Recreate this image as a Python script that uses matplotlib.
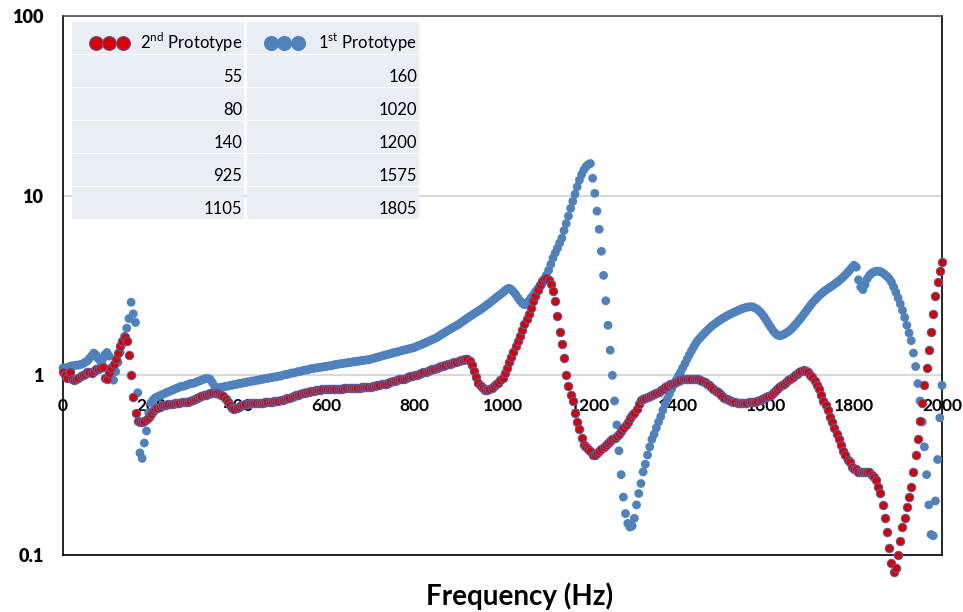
import numpy as np
import matplotlib
matplotlib.use("Agg")
import matplotlib.pyplot as plt
from matplotlib.patches import Rectangle

plt.rcParams['font.family'] = ['Lato', 'DejaVu Sans']
plt.rcParams['mathtext.fontset'] = 'custom'
plt.rcParams['mathtext.rm'] = 'Lato'

# frequency sampling (Hz), 5 Hz steps
freq = np.arange(0, 2005, 5)

# 1st prototype (blue)
proto1 = [
    1.10, 1.10, 1.10, 1.12, 1.13, 1.13, 1.14, 1.14, 1.15, 1.16, 1.18, 1.20, 1.24, 1.28, 1.33, 1.30, 1.24, 1.20, 1.22, 1.30,
    1.34, 1.28, 1.10, 0.94, 1.05, 1.18, 1.35, 1.50, 1.65, 1.83, 2.07, 2.55, 2.20, 1.97, 0.80, 0.37, 0.345, 0.42, 0.49, 0.62,
    0.70, 0.73, 0.75, 0.76, 0.77, 0.78, 0.79, 0.80, 0.81, 0.82, 0.83, 0.84, 0.85, 0.86, 0.87, 0.87, 0.88, 0.89, 0.90, 0.90,
    0.91, 0.92, 0.93, 0.94, 0.95, 0.96, 0.96, 0.95, 0.91, 0.87, 0.85, 0.85, 0.86, 0.86, 0.87, 0.87, 0.88, 0.88, 0.89, 0.89,
    0.90, 0.90, 0.91, 0.91, 0.92, 0.92, 0.93, 0.93, 0.94, 0.94, 0.95, 0.95, 0.96, 0.96, 0.97, 0.97, 0.98, 0.98, 0.99, 0.99,
    1.00, 1.01, 1.01, 1.02, 1.03, 1.03, 1.04, 1.05, 1.05, 1.06, 1.07, 1.07, 1.08, 1.09, 1.09, 1.10, 1.10, 1.11, 1.11, 1.12,
    1.12, 1.13, 1.13, 1.14, 1.15, 1.15, 1.16, 1.16, 1.17, 1.17, 1.18, 1.18, 1.19, 1.19, 1.20, 1.20, 1.21, 1.21, 1.22, 1.22,
    1.23, 1.24, 1.25, 1.26, 1.27, 1.28, 1.29, 1.30, 1.31, 1.32, 1.33, 1.34, 1.35, 1.36, 1.37, 1.38, 1.39, 1.40, 1.41, 1.42,
    1.43, 1.45, 1.47, 1.48, 1.50, 1.52, 1.54, 1.56, 1.58, 1.60, 1.62, 1.65, 1.68, 1.71, 1.74, 1.77, 1.80, 1.83, 1.86, 1.89,
    1.92, 1.96, 2.00, 2.04, 2.08, 2.12, 2.16, 2.20, 2.24, 2.28, 2.32, 2.37, 2.42, 2.47, 2.52, 2.58, 2.64, 2.70, 2.76, 2.82,
    2.88, 2.95, 3.02, 3.05, 3.00, 2.92, 2.82, 2.70, 2.60, 2.52, 2.47, 2.52, 2.60, 2.70, 2.80, 2.92, 3.03, 3.14, 3.25, 3.42,
    3.62, 3.85, 4.15, 4.50, 4.80, 5.10, 5.45, 5.80, 6.40, 7.00, 7.70, 8.50, 9.30, 10.2, 11.2, 12.2, 13.1, 13.9, 14.5, 14.9,
    15.1, 12.5, 10.3, 8.2, 6.5, 4.9, 3.6, 2.6, 1.9, 1.38, 1.0, 0.72, 0.53, 0.38, 0.28, 0.21, 0.17, 0.15, 0.143, 0.145,
    0.16, 0.19, 0.22, 0.25, 0.29, 0.32, 0.36, 0.40, 0.44, 0.47, 0.51, 0.55, 0.59, 0.64, 0.69, 0.74, 0.79, 0.84, 0.89, 0.94,
    0.99, 1.04, 1.10, 1.16, 1.23, 1.30, 1.37, 1.44, 1.51, 1.57, 1.62, 1.67, 1.72, 1.77, 1.82, 1.87, 1.91, 1.95, 1.99, 2.03,
    2.07, 2.10, 2.14, 2.17, 2.20, 2.23, 2.26, 2.29, 2.32, 2.35, 2.37, 2.39, 2.40, 2.41, 2.40, 2.37, 2.33, 2.27, 2.20, 2.12,
    2.03, 1.94, 1.86, 1.78, 1.72, 1.68, 1.66, 1.67, 1.69, 1.72, 1.75, 1.79, 1.84, 1.90, 1.96, 2.03, 2.10, 2.18, 2.26, 2.35,
    2.44, 2.53, 2.61, 2.69, 2.77, 2.84, 2.91, 2.97, 3.03, 3.09, 3.15, 3.21, 3.28, 3.35, 3.43, 3.52, 3.62, 3.73, 3.85, 3.98,
    4.10, 4.00, 3.40, 3.10, 3.00, 3.20, 3.45, 3.60, 3.70, 3.76, 3.80, 3.80, 3.78, 3.72, 3.64, 3.55, 3.45, 3.30, 3.10, 2.90,
    2.70, 2.50, 2.30, 2.10, 1.90, 1.72, 1.56, 1.33, 1.12, 0.90, 0.72, 0.55, 0.40, 0.28, 0.19, 0.13, 0.128, 0.20, 0.34, 0.58,
    0.88,
]

# 2nd prototype (red)
proto2 = [
    1.05, 1.00, 0.97, 1.04, 0.95, 0.94, 0.95, 0.97, 0.99, 1.00, 1.02, 1.04, 1.04, 1.03, 1.06, 1.08, 1.09, 1.10, 1.11, 0.97,
    0.96, 1.03, 1.10, 1.16, 1.24, 1.33, 1.45, 1.56, 1.63, 1.55, 1.30, 1.00, 0.76, 0.62, 0.56, 0.55, 0.55, 0.56, 0.57, 0.59,
    0.61, 0.63, 0.65, 0.66, 0.67, 0.68, 0.68, 0.68, 0.69, 0.69, 0.69, 0.70, 0.70, 0.70, 0.71, 0.71, 0.71, 0.71, 0.72, 0.73,
    0.74, 0.75, 0.76, 0.77, 0.78, 0.78, 0.79, 0.80, 0.80, 0.80, 0.80, 0.79, 0.78, 0.77, 0.74, 0.71, 0.68, 0.66, 0.65, 0.66,
    0.67, 0.68, 0.68, 0.69, 0.69, 0.70, 0.70, 0.70, 0.70, 0.70, 0.70, 0.70, 0.71, 0.71, 0.71, 0.71, 0.72, 0.72, 0.72, 0.73,
    0.73, 0.74, 0.75, 0.75, 0.76, 0.77, 0.78, 0.78, 0.79, 0.80, 0.80, 0.81, 0.81, 0.82, 0.82, 0.83, 0.83, 0.83, 0.84, 0.84,
    0.84, 0.84, 0.84, 0.84, 0.84, 0.84, 0.84, 0.84, 0.85, 0.85, 0.85, 0.85, 0.85, 0.85, 0.85, 0.85, 0.86, 0.86, 0.86, 0.86,
    0.86, 0.87, 0.87, 0.88, 0.88, 0.89, 0.90, 0.90, 0.91, 0.92, 0.93, 0.93, 0.94, 0.95, 0.96, 0.96, 0.97, 0.98, 0.99, 0.99,
    1.00, 1.01, 1.02, 1.03, 1.04, 1.05, 1.06, 1.07, 1.08, 1.09, 1.10, 1.11, 1.12, 1.13, 1.14, 1.15, 1.16, 1.17, 1.18, 1.19,
    1.20, 1.21, 1.22, 1.24, 1.24, 1.20, 1.14, 1.06, 0.98, 0.91, 0.87, 0.85, 0.83, 0.83, 0.84, 0.85, 0.87, 0.89, 0.91, 0.94,
    0.97, 1.03, 1.10, 1.18, 1.27, 1.35, 1.45, 1.56, 1.66, 1.78, 1.92, 2.05, 2.20, 2.38, 2.58, 2.78, 2.98, 3.20, 3.35, 3.45,
    3.48, 3.40, 3.22, 2.95, 2.60, 2.15, 1.75, 1.50, 1.25, 1.00, 0.87, 0.78, 0.72, 0.62, 0.55, 0.50, 0.45, 0.41, 0.40, 0.39,
    0.38, 0.36, 0.36, 0.37, 0.38, 0.39, 0.40, 0.41, 0.42, 0.43, 0.44, 0.45, 0.46, 0.47, 0.49, 0.51, 0.53, 0.55, 0.58, 0.60,
    0.62, 0.65, 0.69, 0.73, 0.74, 0.75, 0.76, 0.77, 0.78, 0.79, 0.80, 0.81, 0.83, 0.84, 0.86, 0.87, 0.89, 0.90, 0.91, 0.92,
    0.93, 0.94, 0.95, 0.95, 0.96, 0.96, 0.96, 0.96, 0.96, 0.95, 0.94, 0.93, 0.92, 0.90, 0.88, 0.86, 0.84, 0.82, 0.81, 0.79,
    0.77, 0.75, 0.74, 0.73, 0.72, 0.71, 0.71, 0.70, 0.70, 0.70, 0.70, 0.70, 0.71, 0.71, 0.71, 0.71, 0.72, 0.73, 0.74, 0.75,
    0.76, 0.77, 0.78, 0.80, 0.82, 0.84, 0.86, 0.88, 0.90, 0.92, 0.94, 0.96, 0.98, 1.00, 1.02, 1.04, 1.06, 1.07, 1.06, 1.04,
    1.01, 0.98, 0.93, 0.88, 0.84, 0.78, 0.72, 0.68, 0.64, 0.59, 0.55, 0.51, 0.47, 0.44, 0.41, 0.38, 0.36, 0.34, 0.33, 0.31,
    0.30, 0.30, 0.29, 0.29, 0.29, 0.29, 0.29, 0.29, 0.28, 0.27, 0.26, 0.24, 0.22, 0.19, 0.16, 0.135, 0.11, 0.09, 0.08, 0.085,
    0.10, 0.12, 0.143, 0.16, 0.185, 0.21, 0.24, 0.29, 0.36, 0.44, 0.56, 0.70, 0.88, 1.10, 1.38, 1.75, 2.20, 2.75, 3.30, 3.80,
    4.30,
]

# natural frequencies listed in the table (Hz)
modes2 = [55, 80, 140, 925, 1105]
modes1 = [160, 1020, 1200, 1575, 1805]
series_names = [r'2$^{\mathrm{nd}}$ Prototype', r'1$^{\mathrm{st}}$ Prototype']

x_ticks = [0, 200, 400, 600, 800, 1000, 1200, 1400, 1600, 1800, 2000]
y_ticks = [0.1, 1, 10, 100]
y_labels = ['0.1', '1', '10', '100']

blue = '#4F81BD'
red = '#D80000'
red_edge = '#5A5F9E'

W, H = 963, 612
fig = plt.figure(figsize=(W / 100, H / 100), dpi=100)
L, T, R, B = 63, 16, 942, 555
ax = fig.add_axes([L / W, 1 - B / H, (R - L) / W, (B - T) / H])

ax.scatter(freq, proto1, s=40, color=blue, edgecolors='none', zorder=4, clip_on=False)
ax.scatter(freq, proto2, s=36, color=red, edgecolors=red_edge, linewidths=0.8, zorder=5, clip_on=False)

ax.set_yscale('log')
ax.set_xlim(0, 2000)
ax.set_ylim(0.1, 100)
ax.set_yticks(y_ticks)
ax.set_yticklabels(y_labels, fontsize=13, fontweight='heavy')
ax.yaxis.set_minor_locator(matplotlib.ticker.NullLocator())
ax.tick_params(axis='y', length=0, pad=14)
ax.tick_params(axis='x', length=0, labelbottom=False)
ax.set_axisbelow(True)
ax.yaxis.grid(True, color='#D9D9D9', linewidth=1.5)
for s in ax.spines.values():
    s.set_color('black')
    s.set_linewidth(1.2)
ax.spines['top'].set_color('#505050')

# x tick labels sit along the y = 1 line
sec = ax.secondary_xaxis(1 / 3)
sec.set_xticks(x_ticks)
sec.set_xticklabels([str(v) for v in x_ticks], fontsize=12.5, fontweight='bold')
sec.tick_params(axis='x', length=0, pad=16)
sec.spines['bottom'].set_visible(False)
sec.spines['top'].set_visible(False)

ax.set_xlabel('Frequency (Hz)', fontsize=20, fontweight='bold')
ax.xaxis.label.set_verticalalignment('baseline')
ax.xaxis.set_label_coords((520 - L) / (R - L), -(605 - B) / (B - T))


# table of modes, laid out in pixel units of the figure
def to_ax(x, y):
    return (x - L) / (R - L), 1 - (y - T) / (B - T)


cell_bg = '#E9EDF4'
col_left = [72, 247]
col_w = 172
row_top = [22, 55, 88, 121, 154, 187]
row_h = 32
for cl in col_left:
    for rt in row_top:
        x0, y0 = to_ax(cl, rt + row_h)
        ax.add_patch(Rectangle((x0, y0), col_w / (R - L), row_h / (B - T), transform=ax.transAxes,
                               facecolor=cell_bg, edgecolor='none', zorder=6, clip_on=False))

for ci, (col, name, color, edge) in enumerate(zip([modes2, modes1], series_names, [red, blue], [red_edge, blue])):
    xr = col_left[ci] + col_w - 2
    tx, ty = to_ax(xr, row_top[0] + row_h - 5)
    ax.text(tx, ty, name, transform=ax.transAxes, ha='right', va='baseline', fontsize=12, zorder=7)
    mx = [col_left[ci] + 24, col_left[ci] + 37, col_left[ci] + 51]
    pts = [to_ax(m, 43) for m in mx]
    ax.plot([p[0] for p in pts], [p[1] for p in pts], ls='', marker='o', ms=10, color=color,
            mec=edge, mew=0.8, transform=ax.transAxes, zorder=7, clip_on=False)
    for ri, v in enumerate(col):
        tx, ty = to_ax(xr, row_top[ri + 1] + row_h - 5)
        ax.text(tx, ty, str(v), transform=ax.transAxes, ha='right', va='baseline', fontsize=12, zorder=7)

fig.savefig('out.png', dpi=100)
